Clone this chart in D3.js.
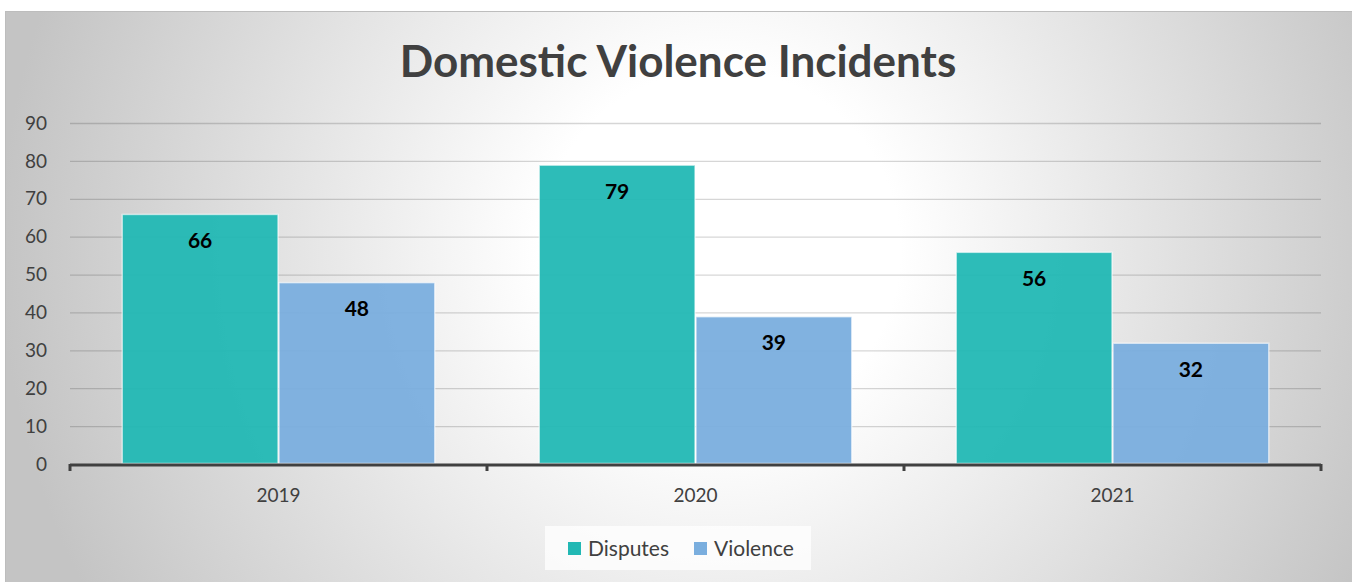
<!DOCTYPE html>
<html>
<head>
<meta charset="utf-8">
<script src="https://cdn.jsdelivr.net/npm/d3@7"></script>
<style>
  html, body { margin: 0; padding: 0; background: #fff; }
  svg { display: block; }
  text { font-family: Lato, "Open Sans", sans-serif; }
</style>
</head>
<body>
<svg width="1352" height="582"></svg>
<script>
const years = ["2019", "2020", "2021"];
const seriesNames = ["Disputes", "Violence"];
const disputes = [66, 79, 56];
const violence = [48, 39, 32];
const yTicks = [0, 10, 20, 30, 40, 50, 60, 70, 80, 90];

const colors = { Disputes: "#22b8b4", Violence: "#7aaede" };

const width = 1352, height = 582;
const margin = { top: 123, right: 31, bottom: 118, left: 70 };

const svg = d3.select("svg");

// background gradient
const defs = svg.append("defs");
const grad = defs.append("radialGradient")
  .attr("id", "bg")
  .attr("gradientUnits", "userSpaceOnUse")
  .attr("cx", 720).attr("cy", 250).attr("r", 720);
grad.append("stop").attr("offset", "0%").attr("stop-color", "#ffffff");
grad.append("stop").attr("offset", "25%").attr("stop-color", "#ffffff");
grad.append("stop").attr("offset", "100%").attr("stop-color", "#c4c4c4");

svg.append("rect")
  .attr("x", 5.5).attr("y", 11.5)
  .attr("width", 1360).attr("height", 600)
  .attr("fill", "url(#bg)")
  .attr("stroke", "#bdbdbd");

svg.append("text")
  .attr("x", 678).attr("y", 77)
  .attr("text-anchor", "middle")
  .attr("font-size", 44).attr("font-weight", 700)
  .attr("fill", "#404040")
  .text("Domestic Violence Incidents");

const x0 = d3.scaleBand().domain(years)
  .range([margin.left, width - margin.right]).paddingInner(0).paddingOuter(0);
const x1 = d3.scaleBand().domain(seriesNames)
  .range([0, x0.bandwidth()]).paddingInner(0).paddingOuter(0.33);
const y = d3.scaleLinear().domain([0, 90])
  .range([height - margin.bottom, margin.top]);

// gridlines
svg.append("g")
  .selectAll("line")
  .data(yTicks.slice(1))
  .join("line")
  .attr("x1", margin.left).attr("x2", width - margin.right)
  .attr("y1", d => y(d) + 0.5).attr("y2", d => y(d) + 0.5)
  .attr("stroke", "rgba(0,0,0,0.16)")
  .attr("stroke-width", 1.3);

// y tick labels
svg.append("g")
  .selectAll("text")
  .data(yTicks)
  .join("text")
  .attr("x", 47).attr("y", d => y(d))
  .attr("dy", "0.35em")
  .attr("text-anchor", "end")
  .attr("font-size", 19)
  .attr("fill", "#404040")
  .text(d => d);

const rows = years.map((yr, i) => ({
  year: yr,
  values: [
    { name: "Disputes", value: disputes[i] },
    { name: "Violence", value: violence[i] }
  ]
}));

const groups = svg.append("g")
  .selectAll("g")
  .data(rows)
  .join("g")
  .attr("transform", d => `translate(${x0(d.year)},0)`);

groups.selectAll("rect")
  .data(d => d.values)
  .join("rect")
  .attr("x", d => x1(d.name) + 0.5)
  .attr("y", d => y(d.value) + 0.5)
  .attr("width", x1.bandwidth() - 1)
  .attr("height", d => y(0) - y(d.value) - 1)
  .attr("fill", d => colors[d.name])
  .attr("fill-opacity", 0.95)
  .attr("stroke", "rgba(255,255,255,0.6)")
  .attr("stroke-width", 1.5);

groups.selectAll("text")
  .data(d => d.values)
  .join("text")
  .attr("x", d => x1(d.name) + x1.bandwidth() / 2)
  .attr("y", d => y(d.value) + 34)
  .attr("text-anchor", "middle")
  .attr("font-size", 21).attr("font-weight", 700)
  .attr("fill", "#000")
  .text(d => d.value);

// x axis
const axisY = y(0) + 1;
svg.append("line")
  .attr("x1", margin.left).attr("x2", width - margin.right)
  .attr("y1", axisY).attr("y2", axisY)
  .attr("stroke", "#404040").attr("stroke-width", 3);

const tickXs = years.map(d => x0(d)).concat([x0(years[years.length - 1]) + x0.bandwidth()]);
svg.append("g")
  .selectAll("line")
  .data(tickXs)
  .join("line")
  .attr("x1", d => d).attr("x2", d => d)
  .attr("y1", axisY - 1).attr("y2", axisY + 6)
  .attr("stroke", "#404040").attr("stroke-width", 3);

svg.append("g")
  .selectAll("text")
  .data(years)
  .join("text")
  .attr("x", d => x0(d) + x0.bandwidth() / 2)
  .attr("y", 502)
  .attr("text-anchor", "middle")
  .attr("font-size", 19)
  .attr("fill", "#404040")
  .text(d => d);

// legend
const legend = svg.append("g");
legend.append("rect")
  .attr("x", 545).attr("y", 526)
  .attr("width", 266).attr("height", 44)
  .attr("fill", "rgba(255,255,255,0.75)");

const legendX = [568, 694];
const items = legend.selectAll("g")
  .data(seriesNames)
  .join("g")
  .attr("transform", (d, i) => `translate(${legendX[i]},542)`);
items.append("rect")
  .attr("width", 13).attr("height", 13)
  .attr("fill", d => colors[d]);
items.append("text")
  .attr("x", 20).attr("y", 6.5)
  .attr("dy", "0.35em")
  .attr("font-size", 21)
  .attr("fill", "#404040")
  .text(d => d);
</script>
</body>
</html>
